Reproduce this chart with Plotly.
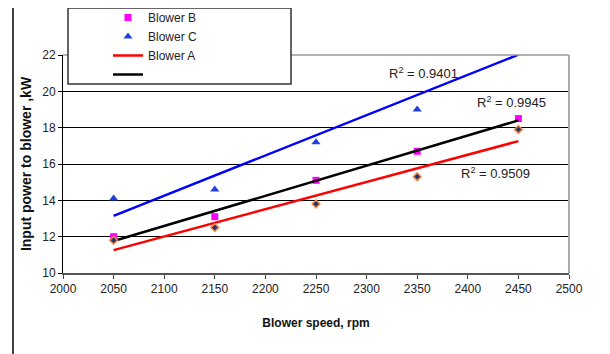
import numpy as np
import plotly.graph_objects as go

speed = [2050, 2150, 2250, 2350, 2450]
blower_a = [11.8, 12.5, 13.8, 15.3, 17.9]
blower_b = [12.0, 13.1, 15.1, 16.7, 18.5]
blower_c = [14.1, 14.6, 17.2, 19.0, 23.0]   # last point lies above the axis range
r2_labels = ["R<sup>2</sup> = 0.9401", "R<sup>2</sup> = 0.9945", "R<sup>2</sup> = 0.9509"]
x_ticks = [2000, 2050, 2100, 2150, 2200, 2250, 2300, 2350, 2400, 2450, 2500]
y_ticks = [10, 12, 14, 16, 18, 20, 22]

def trend(y):
    k, b = np.polyfit(speed, y, 1)
    xs = np.array([speed[0], speed[-1]])
    return xs, k * xs + b

# page offset of the figure inside the browser window (body margin)
OFF = 8
W, H = 610, 354
PL, PT, PW, PH = 63, 55, 506, 218          # plot area in window pixels
L, T = PL - OFF, PT - OFF
R, B = W - L - PW, H - T - PH
def px(x): return (x - PL) / PW
def py(y): return (PT + PH - y) / PH

fig = go.Figure()

xa, ya = trend(blower_a)
xb, yb = trend(blower_b)
xc, yc = trend(blower_c)

fig.add_trace(go.Scatter(x=speed, y=blower_b, mode="markers", name="Blower B",
                         marker=dict(symbol="square", size=7, color="#ff00ff")))
fig.add_trace(go.Scatter(x=speed, y=blower_c, mode="markers", name="Blower C",
                         marker=dict(symbol="triangle-up", size=8, color="#1f3fe0")))
fig.add_trace(go.Scatter(x=xa, y=ya, mode="lines", name="Blower A",
                         line=dict(color="#ff0000", width=2.5)))
fig.add_trace(go.Scatter(x=xb, y=yb, mode="lines", name=" ",
                         line=dict(color="#000000", width=2.5)))
fig.add_trace(go.Scatter(x=xc, y=yc, mode="lines", showlegend=False,
                         line=dict(color="#0000ff", width=2.5)))
fig.add_trace(go.Scatter(x=speed, y=blower_a, mode="markers", showlegend=False,
                         marker=dict(symbol="diamond", size=6, color="#22307a",
                                     line=dict(color="#f08a40", width=1.5))))

font_tick = dict(family="Liberation Sans Narrow, Arial Narrow, Liberation Sans, Arial", size=12, color="#222222")
font_xtitle = dict(family="Liberation Sans, Arial", size=12, color="#111111")
font_ytitle = dict(family="Liberation Sans, Arial", size=14, color="#111111")

fig.update_layout(
    width=W, height=H,
    margin=dict(l=L, r=R, t=T, b=B, pad=0, autoexpand=False),
    paper_bgcolor="white", plot_bgcolor="white",
    showlegend=True,
    legend=dict(x=px(108), y=py(3), xanchor="left", yanchor="top",
                bgcolor="rgba(0,0,0,0)", borderwidth=0,
                font=dict(family="Liberation Sans, Arial", size=12, color="#222222"),
                tracegroupgap=0),
    xaxis=dict(range=[2000, 2500], tickvals=x_ticks, ticks="outside", ticklen=4,
               tickcolor="#444444", showgrid=False, zeroline=False, automargin=False,
               showline=True, linecolor="#555555", linewidth=2, mirror=False,
               tickfont=font_tick,
               title=dict(text="<b>Blower speed, rpm</b>", font=font_xtitle, standoff=23)),
    yaxis=dict(range=[10, 22], tickvals=y_ticks, ticks="outside", ticklen=4,
               tickcolor="#000000", showgrid=True, gridcolor="#000000", gridwidth=1,
               zeroline=False, showline=True, linecolor="#000000", linewidth=1,
               tickfont=font_tick, automargin=False,
               title=dict(text="<b>Input power to blower ,kW</b>", font=font_ytitle, standoff=7)),
)

shapes = [
    # grey frame on top and right of plot area
    dict(type="line", xref="paper", yref="paper", x0=0, x1=1, y0=1, y1=1,
         line=dict(color="#999999", width=1.5)),
    dict(type="line", xref="paper", yref="paper", x0=1, x1=1, y0=0, y1=1,
         line=dict(color="#aaaaaa", width=2)),
    # chart border top and left
    dict(type="line", xref="paper", yref="paper", x0=px(0), x1=px(W), y0=py(7), y1=py(7),
         line=dict(color="#333333", width=1.5)),
    dict(type="line", xref="paper", yref="paper", x0=px(13), x1=px(13), y0=py(7), y1=py(H),
         line=dict(color="#000000", width=1.5)),
    # legend box
    dict(type="rect", xref="paper", yref="paper", x0=px(68), x1=px(291), y0=py(84), y1=py(8),
         fillcolor="white", line=dict(color="#333333", width=1.5), layer="above"),
]
fig.update_layout(shapes=shapes)

ann_font = dict(family="Liberation Sans, Arial", size=13, color="#222222")
ann_pos = [(2320, 21.0), (2407, 19.4), (2391, 15.5)]
for (ax_, ay_), txt in zip(ann_pos, r2_labels):
    fig.add_annotation(x=ax_, y=ay_, text=txt, showarrow=False, xanchor="left",
                       font=ann_font)

fig.write_html("out.html")
